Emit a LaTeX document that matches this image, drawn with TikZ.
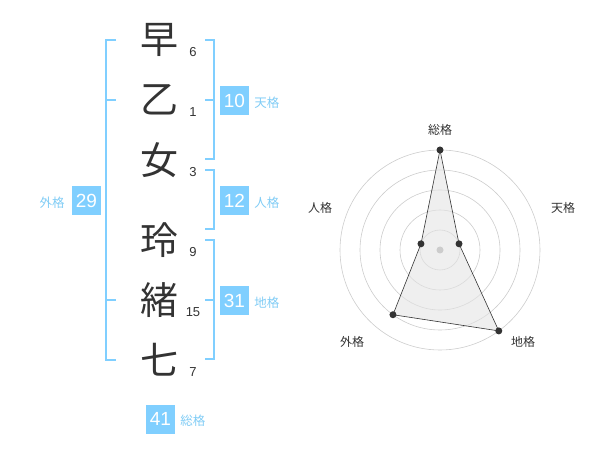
\documentclass[tikz,border=0pt]{standalone}
\usepackage{fontspec}
\setmainfont{Liberation Sans}
\newfontfamily\jpfont{Noto Sans CJK JP}
\usepackage{tikz}
\usetikzlibrary{positioning}
\usepackage{xcolor}
\definecolor{boxblue}{HTML}{80CFFF}
\definecolor{labelblue}{HTML}{80CCF5}
\definecolor{inkgray}{HTML}{333333}
\definecolor{ringgray}{HTML}{CCCCCC}
\definecolor{areagray}{HTML}{E4E4E4}

\begin{document}
\begin{tikzpicture}[
    x=1pt, y=-1pt,
    name_char/.style={
        inner sep=0pt,
        text=inkgray,
        font=\jpfont\fontsize{38}{38}\selectfont
    },
    stroke_num/.style={
        inner sep=0pt,
        text=inkgray,
        font=\fontsize{13}{13}\selectfont
    },
    score_box/.style={
        rectangle,
        fill=boxblue,
        text=white,
        minimum size=29pt,
        inner sep=0pt,
        font=\fontsize{19}{19}\selectfont
    },
    score_label/.style={
        inner sep=0pt,
        text=labelblue,
        font=\jpfont\fontsize{12.5}{12.5}\selectfont
    },
    bracket_line/.style={
        draw=boxblue,
        line width=1.8pt
    },
    ring_line/.style={
        draw=ringgray,
        line width=0.6pt
    },
    data_dot/.style={
        circle,
        fill=inkgray,
        minimum size=7pt,
        inner sep=0pt
    },
    axis_label/.style={
        inner sep=0pt,
        text=inkgray,
        font=\jpfont\fontsize{12}{12}\selectfont
    }
]
\useasboundingbox (0,0) rectangle (600,470);

% Name characters with stroke counts
\node[name_char] (c1) at (159,40) {早};
\node[name_char] (c2) at (159,100) {乙};
\node[name_char] (c3) at (159,160) {女};
\node[name_char] (c4) at (159,240) {玲};
\node[name_char] (c5) at (159,300) {緒};
\node[name_char] (c6) at (159,360) {七};

\node[stroke_num] (n1) at ([shift={(34,12)}]c1) {6};
\node[stroke_num] (n2) at ([shift={(34,12)}]c2) {1};
\node[stroke_num] (n3) at ([shift={(34,12)}]c3) {3};
\node[stroke_num] (n4) at ([shift={(34,12)}]c4) {9};
\node[stroke_num] (n5) at ([shift={(34,12)}]c5) {15};
\node[stroke_num] (n6) at ([shift={(34,12)}]c6) {7};

% Brackets: outer on the left, heaven / person / earth on the right
\draw[bracket_line] (116,40) -- (106,40) -- (106,360) -- (116,360);
\draw[bracket_line] (106,100) -- (116,100);
\draw[bracket_line] (106,300) -- (116,300);

\draw[bracket_line] (205,40) -- (214,40) -- (214,159) -- (205,159);
\draw[bracket_line] (205,100) -- (214,100);
\draw[bracket_line] (205,170) -- (214,170) -- (214,229) -- (205,229);
\draw[bracket_line] (205,240) -- (214,240) -- (214,359) -- (205,359);
\draw[bracket_line] (205,300) -- (214,300);

% Score boxes and their labels
\node[score_box] (ten) at (234.5,100.5) {10};
\node[score_label, right=5pt of ten, yshift=-2pt] (tenl) {天格};
\node[score_box] (jin) at (234.5,200.5) {12};
\node[score_label, right=5pt of jin, yshift=-2pt] (jinl) {人格};
\node[score_box] (chi) at (234.5,300.5) {31};
\node[score_label, right=5pt of chi, yshift=-2pt] (chil) {地格};
\node[score_box] (gai) at (86.5,200.5) {29};
\node[score_label, left=7pt of gai, yshift=-2pt] (gail) {外格};
\node[score_box] (sou) at (160.5,419) {41};
\node[score_label, right=5pt of sou, yshift=-2pt] (soul) {総格};

% Radar chart
\coordinate (ctr) at (440,250);
\foreach \r in {20,40,60,80,100} {
    \draw[ring_line] (ctr) circle[radius=\r pt];
}

\foreach \nm/\ang/\val/\txt/\lx/\ly in {
    p1/90/100/総格/440/130,
    p2/18/20/天格/563/208,
    p3/-54/100/地格/523/342,
    p4/-126/80/外格/352/342,
    p5/162/20/人格/320/208} {
    \coordinate (\nm) at ([shift={(\ang:\val pt)}]ctr);
    \node[axis_label] (\nm l) at (\lx,\ly) {\txt};
}

\filldraw[fill=areagray, fill opacity=0.6, draw=inkgray, line width=0.6pt]
    (p1) -- (p2) -- (p3) -- (p4) -- (p5) -- cycle;
\fill[ringgray] (ctr) circle[radius=3.5pt];

\foreach \nm in {p1,p2,p3,p4,p5} {
    \node[data_dot] (\nm d) at (\nm) {};
}

\end{tikzpicture}
\end{document}
